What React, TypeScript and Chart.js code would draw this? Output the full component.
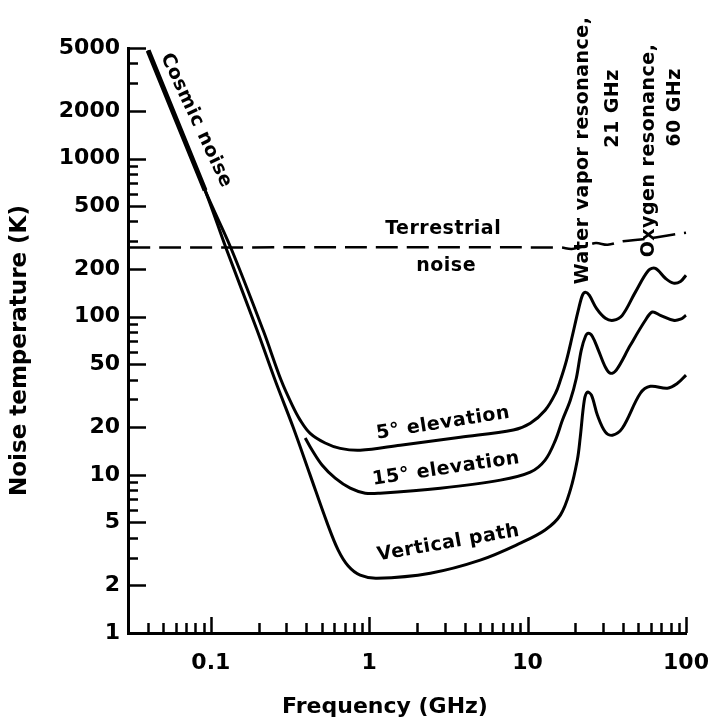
import React, { useEffect, useRef } from 'react';
import { Chart, registerables } from 'chart.js';

Chart.register(...registerables);

// ---- axis ticks ----
const X_TICKS = [0.1, 1, 10, 100];
const X_TICK_LABELS = ['0.1', '1', '10', '100'];
const Y_TICKS = [1, 2, 5, 10, 20, 50, 100, 200, 500, 1000, 2000, 5000];
const Y_TICK_LABELS = ['1', '2', '5', '10', '20', '50', '100', '200', '500', '1000', '2000', '5000'];

// ---- series (frequency GHz, noise temperature K) ----
const COSMIC_F = [0.0402, 0.092];
const COSMIC_T = [4820, 629];

const VERTICAL_F = [0.0402, 0.092, 0.125, 0.196, 0.2547, 0.331, 0.4238, 0.543, 0.637, 0.737, 0.877, 1.12, 2.43, 5.02, 9.0, 12.9, 16.1, 18.6, 20.6, 21.5, 22.8, 23.8, 25.3, 27.6, 31.0, 34.3, 39.6, 51.5, 59.6, 76.3, 88.3, 100];
const VERTICAL_T = [4820, 629, 270, 82.0, 39.6, 20.0, 9.96, 4.95, 3.34, 2.65, 2.32, 2.22, 2.39, 2.89, 3.7, 4.48, 5.56, 8.0, 12.4, 17.3, 29.6, 33.3, 31.9, 23.8, 18.6, 17.8, 19.7, 32.8, 36.3, 35.3, 37.9, 42.7];

const ELEV5_F = [0.0402, 0.092, 0.1343, 0.214, 0.278, 0.3264, 0.3665, 0.4238, 0.527, 0.656, 0.877, 1.57, 3.76, 8.12, 10.4, 12.9, 15.0, 16.1, 17.6, 19.2, 20.9, 22.2, 23.2, 24.5, 27.2, 31.0, 34.8, 39.6, 47.9, 57.9, 64.1, 74.1, 83.3, 92.3, 100];
const ELEV5_T = [4820, 629, 270, 82.0, 39.6, 27.6, 22.2, 18.3, 15.9, 14.7, 14.3, 15.4, 17.3, 19.2, 21.2, 25.6, 32.8, 39.6, 53.0, 76.3, 110, 137, 143, 137, 113, 97.8, 94.9, 102, 143, 196, 202, 175, 163, 167, 183];

const ELEV15_F = [0.3944, 0.4365, 0.505, 0.61, 0.759, 0.944, 1.17, 2.81, 6.73, 10.4, 12.9, 15.0, 16.6, 18.6, 20.3, 21.8, 23.2, 24.2, 25.6, 28.0, 31.0, 33.3, 36.3, 44.5, 55.4, 61.3, 68.9, 83.3, 92.3, 100];
const ELEV15_T = [17.1, 14.3, 11.5, 9.53, 8.24, 7.66, 7.66, 8.24, 9.26, 10.4, 12.4, 16.6, 22.2, 29.6, 40.8, 61.3, 75.2, 78.5, 75.2, 61.3, 47.9, 43.9, 45.9, 65.9, 94.9, 107, 102, 94.9, 96.4, 102];

const TERRESTRIAL_F = [0.03, 16, 19, 23, 27, 32, 40, 55, 75, 100];
const TERRESTRIAL_T = [274, 274, 268, 280, 292, 285, 300, 310, 325, 340];

// ---- annotations (anchored in data coordinates) ----
const ANNOTATIONS = [
  { text: 'Cosmic noise', f: 0.0807, t: 1741, angle: 65 },
  { text: 'Terrestrial', f: 2.93, t: 356, angle: 0 },
  { text: 'noise', f: 3.06, t: 208, angle: 0 },
  { text: '5° elevation', f: 2.93, t: 21.2, angle: -9 },
  { text: '15° elevation', f: 3.06, t: 10.9, angle: -8.5 },
  { text: 'Vertical path', f: 3.16, t: 3.7, angle: -10 },
  { text: 'Water vapor resonance,', f: 22.5, t: 1125, angle: -90 },
  { text: '21 GHz', f: 34.8, t: 2072, angle: -90 },
  { text: 'Oxygen resonance,', f: 58.7, t: 1125, angle: -90 },
  { text: '60 GHz', f: 85.7, t: 2103, angle: -90 },
];

const X_TITLE = 'Frequency (GHz)';
const Y_TITLE = 'Noise temperature (K)';

const FONT = 'DejaVu Sans';

const pts = (fs: number[], ts: number[]) => fs.map((f, i) => ({ x: f, y: ts[i] }));

const decorPlugin = {
  id: 'decor',
  afterDraw(chart: any) {
    const { ctx, chartArea } = chart;
    const xs = chart.scales.x;
    const ys = chart.scales.y;
    ctx.save();
    ctx.strokeStyle = '#000';
    ctx.lineWidth = 2.5;
    ctx.lineCap = 'butt';
    // y ticks (inward)
    for (let e = 0; e <= 3; e++) {
      for (let m = 1; m <= 9; m++) {
        const v = m * Math.pow(10, e);
        if (v < 1.5 || v > 5000.5) continue;
        const len = m === 1 || m === 2 || m === 5 ? 18 : 10;
        const py = Math.round(ys.getPixelForValue(v)) + 0.5;
        ctx.beginPath();
        ctx.moveTo(chartArea.left, py);
        ctx.lineTo(chartArea.left + len, py);
        ctx.stroke();
      }
    }
    // x ticks (inward)
    for (let e = -2; e <= 2; e++) {
      for (let m = 1; m <= 9; m++) {
        const v = m * Math.pow(10, e);
        if (v < 0.0301 || v > 100.01) continue;
        const len = m === 1 ? 16 : 10;
        const px = Math.round(xs.getPixelForValue(v)) + 0.5;
        ctx.beginPath();
        ctx.moveTo(px, chartArea.bottom);
        ctx.lineTo(px, chartArea.bottom - len);
        ctx.stroke();
      }
    }
    // annotations
    ctx.fillStyle = '#000';
    ctx.textAlign = 'center';
    ctx.textBaseline = 'middle';
    ctx.font = `bold 19px "${FONT}"`;
    try { (ctx as any).letterSpacing = '0.5px'; } catch (e) {}
    for (const a of ANNOTATIONS) {
      const px = xs.getPixelForValue(a.f);
      const py = ys.getPixelForValue(a.t);
      ctx.save();
      ctx.translate(px, py);
      ctx.rotate((a.angle * Math.PI) / 180);
      ctx.fillText(a.text, 0, 0);
      ctx.restore();
    }
    try { (ctx as any).letterSpacing = '0px'; } catch (e) {}
    // axis titles
    ctx.font = `bold 22px "${FONT}"`;
    ctx.fillText(X_TITLE, 385, 707);
    ctx.save();
    ctx.translate(20, (chartArea.top + chartArea.bottom) / 2 + 10);
    ctx.rotate(-Math.PI / 2);
    ctx.font = `bold 23px "${FONT}"`;
    ctx.fillText(Y_TITLE, 0, 0);
    ctx.restore();
    ctx.restore();
  },
};

export default function App() {
  const ref = useRef<HTMLCanvasElement | null>(null);
  useEffect(() => {
    if (!ref.current) return;
    const line = (data: any, width: number, dash: number[] = []) => ({
      data,
      borderColor: '#000',
      borderWidth: width,
      borderDash: dash,
      pointRadius: 0,
      fill: false,
      tension: 0.35,
      clip: false as any,
    });
    const chart = new Chart(ref.current, {
      type: 'line',
      data: {
        datasets: [
          line(pts(TERRESTRIAL_F, TERRESTRIAL_T), 2.5, [22, 9]),
          line(pts(VERTICAL_F, VERTICAL_T), 3),
          line(pts(ELEV5_F, ELEV5_T), 3),
          line(pts(ELEV15_F, ELEV15_T), 3),
          line(pts(COSMIC_F, COSMIC_T), 5),
        ],
      },
      options: {
        animation: false,
        responsive: false,
        devicePixelRatio: 1,
        layout: { padding: { left: 0, top: 48, right: 25, bottom: 0 } },
        plugins: { legend: { display: false }, tooltip: { enabled: false } },
        scales: {
          x: {
            type: 'logarithmic',
            position: 'bottom',
            min: 0.03,
            max: 100,
            grid: { drawOnChartArea: false, drawTicks: false },
            border: { display: true, color: '#000', width: 3 },
            ticks: {
              autoSkip: false,
              maxRotation: 0,
              minRotation: 0,
              padding: 17,
              color: '#000',
              font: { family: FONT, size: 22, weight: 'bold' },
              callback: (v: any) => {
                const i = X_TICKS.indexOf(Number(v));
                return i >= 0 ? X_TICK_LABELS[i] : '';
              },
            },
            afterBuildTicks: (s: any) => {
              s.ticks = X_TICKS.map((v) => ({ value: v }));
            },
            afterFit: (s: any) => {
              s.height = 87;
              s.paddingLeft = 0;
              s.paddingRight = 0;
            },
          },
          y: {
            type: 'logarithmic',
            position: 'left',
            min: 1,
            max: 5000,
            grid: { drawOnChartArea: false, drawTicks: false },
            border: { display: true, color: '#000', width: 3 },
            ticks: {
              autoSkip: false,
              padding: 8,
              color: '#000',
              font: { family: FONT, size: 22, weight: 'bold' },
              callback: (v: any) => {
                const i = Y_TICKS.indexOf(Number(v));
                return i >= 0 ? Y_TICK_LABELS[i] : '';
              },
            },
            afterBuildTicks: (s: any) => {
              s.ticks = Y_TICKS.map((v) => ({ value: v }));
            },
            afterFit: (s: any) => {
              s.width = 128;
              s.paddingTop = 0;
              s.paddingBottom = 0;
            },
          },
        },
      },
      plugins: [decorPlugin],
    });
    return () => chart.destroy();
  }, []);
  return (
    <div style={{ position: 'absolute', left: 0, top: 0, width: 711, height: 720, background: '#fff' }}>
      <canvas ref={ref} width={711} height={720} style={{ display: 'block' }} />
    </div>
  );
}
